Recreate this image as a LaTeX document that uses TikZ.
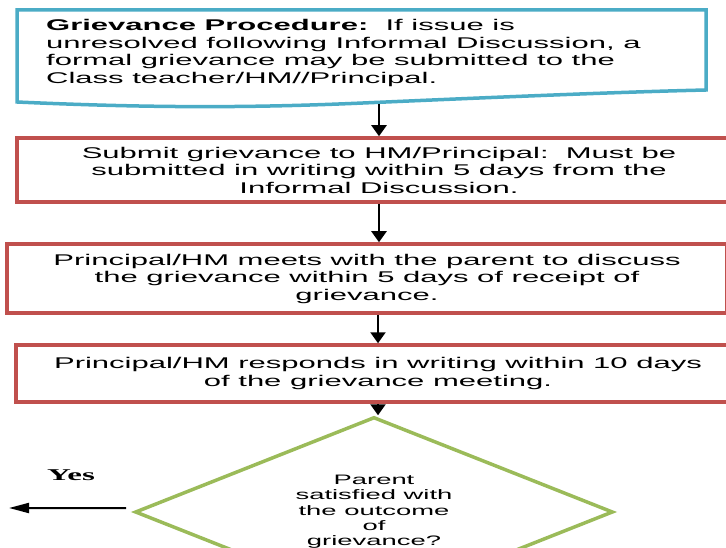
\documentclass[tikz,border=0pt]{standalone}
\usepackage{fontspec}
\setmainfont{Liberation Sans}[FakeStretch=2.0]
\newfontfamily\yesfont{Liberation Serif}[FakeStretch=2.0]
\usetikzlibrary{shapes.geometric,arrows.meta}
\definecolor{docblue}{HTML}{4BACC6}
\definecolor{boxred}{HTML}{C0504D}
\definecolor{askgreen}{HTML}{9BBB59}
\newcommand\drawDocShape[1]{%
\draw[draw=docblue, line width=3.5bp, fill=white] (17,10) -- (706,10) -- (706,90)
  .. controls (620,92) and (500,97) .. (363,103)
  .. controls (250,108) and (150,108) .. (17,102) -- cycle;
\coordinate (#1) at (379,104);
}

\begin{document}
\begin{tikzpicture}[x=1bp,y=-1bp,
			s1/.style={rectangle, draw=boxred, line width=3.5bp, fill=white, inner sep=0pt, minimum width=724bp, align=center, font=\fontsize{15.5bp}{17.5bp}\selectfont},
			s2/.style={diamond, draw=askgreen, line width=3.5bp, aspect=2.5, inner sep=0pt, minimum width=478bp, minimum height=190bp, align=center, font=\fontsize{13.7bp}{15.3bp}\selectfont},
			t1/.style={line width=2.2bp, -{Triangle[width=15bp,length=11bp]}},
			t2/.style={line width=2bp, -{Triangle[width=10bp,length=20bp]}, shorten <=7bp}]

			\useasboundingbox (0,0) rectangle (726,548);
			\clip (0,0) rectangle (726,548);

			% drawing grievance procedure
			\drawDocShape{docout}
			\node[anchor=west, align=left, inner sep=0pt, font=\fontsize{15.5bp}{17.5bp}\selectfont] (proc) at (46,53) {\textbf{Grievance Procedure:}\ \ If issue is\\unresolved following Informal Discussion, a\\formal grievance may be submitted to the\\Class teacher/HM//Principal.};

			% drawing steps
			\node[s1, minimum height=64bp] (submit) at (379,170) {Submit grievance to HM/Principal:\ \ Must be\\submitted in writing within 5 days from the\\Informal Discussion.};
			\node[s1, minimum width=720bp, minimum height=69bp] (meet) at (367,278.5) {Principal/HM meets with the parent to discuss\\the grievance within 5 days of receipt of\\grievance.};
			\node[s1, minimum height=57bp] (respond) at (378,373.5) {Principal/HM responds in writing within 10 days\\of the grievance meeting.};

			% drawing decision
			\node[s2] (ask) at (374,512) {Parent\\satisfied with\\the outcome\\of\\grievance?};
			\node[font=\yesfont\bfseries\fontsize{16.5bp}{19bp}\selectfont, inner sep=0pt] (yes) at (71,475) {Yes};
			\coordinate (yesend) at (9,508);

			% drawing arrows
			\draw[t1] (docout) -- (submit.north);
			\draw[t1] (submit.south) -- (submit.south |- meet.north);
			\draw[t1] (respond.north |- meet.south) -- (respond.north);
			\draw[t1] (respond.south) -- (respond.south |- ask.north);
			\draw[t2] ([yshift=4bp]ask.west) -- (yesend);

		\end{tikzpicture}
\end{document}
